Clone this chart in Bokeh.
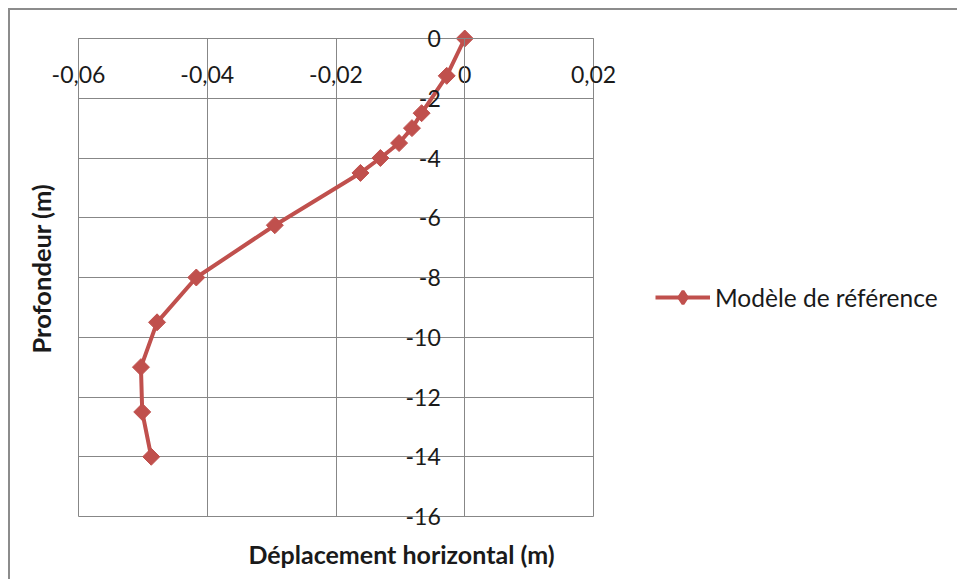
import math
from bokeh.plotting import figure
from bokeh.models import (FixedTicker, Label, Legend, LegendItem, Range1d)
from bokeh.embed import file_html
from bokeh.resources import INLINE

# Data
displacement = [0.0, -0.0028, -0.0067, -0.0082, -0.0102, -0.0131, -0.0162,
                -0.0295, -0.0417, -0.0478, -0.0503, -0.0501, -0.0487]
depth = [0.0, -1.25, -2.5, -3.0, -3.5, -4.0, -4.5,
         -6.25, -8.0, -9.5, -11.0, -12.5, -14.0]

x_ticks = [-0.06, -0.04, -0.02, 0.0, 0.02]
x_tick_labels = ["-0,06", "-0,04", "-0,02", "0", "0,02"]
y_ticks = [0, -2, -4, -6, -8, -10, -12, -14, -16]
y_tick_labels = ["0", "-2", "-4", "-6", "-8", "-10", "-12", "-14", "-16"]

series_name = "Modèle de référence"
x_title = "Déplacement horizontal (m)"
y_title = "Profondeur (m)"

RED = "#C0504D"
GRID = "#878787"
TEXT = "#1a1a1a"
FONT = "Lato"

X_MIN, X_MAX = -0.06, 0.02
Y_MIN, Y_MAX = -16, 0

# The frame covers the whole canvas; the visible plot area is bounded by
# the axis/grid bounds so that tick labels and titles are never clipped.
p = figure(width=949, height=571, output_backend="svg", toolbar_location=None,
           x_range=Range1d(-0.070563, 0.076854),
           y_range=Range1d(-18.17573, 0.93724),
           min_border_left=0, min_border_right=0, min_border_top=0,
           min_border_bottom=0)
p.styles = {"margin-left": "8px", "margin-top": "8px",
            "border-top": "2px solid #8c8c8c", "border-left": "2px solid #8c8c8c"}

p.outline_line_color = None
p.background_fill_color = "white"
p.border_fill_color = "white"

p.xaxis.bounds = (X_MIN, X_MAX)
p.yaxis.bounds = (Y_MIN, Y_MAX)
for ax in (p.xaxis[0], p.yaxis[0]):
    ax.fixed_location = 0
    ax.axis_line_color = GRID
    ax.axis_line_width = 1
    ax.major_tick_in = 0
    ax.major_tick_out = 0
    ax.minor_tick_in = 0
    ax.minor_tick_out = 0
    ax.major_label_text_font = FONT
    ax.major_label_text_font_size = "23px"
    ax.major_label_text_color = TEXT

p.xaxis.ticker = FixedTicker(ticks=x_ticks)
p.xaxis.major_label_overrides = {t: l for t, l in zip(x_ticks, x_tick_labels)}
p.xaxis.major_label_orientation = "horizontal"
p.xaxis.major_label_standoff = 27

p.yaxis.ticker = FixedTicker(ticks=y_ticks)
p.yaxis.major_label_overrides = {t: l for t, l in zip(y_ticks, y_tick_labels)}
p.yaxis.major_label_standoff = 24

p.xgrid.ticker = FixedTicker(ticks=x_ticks)
p.ygrid.ticker = FixedTicker(ticks=y_ticks)
p.xgrid.bounds = (X_MIN, X_MAX)
p.xgrid.cross_bounds = (Y_MIN, Y_MAX)
p.ygrid.bounds = (Y_MIN, Y_MAX)
p.ygrid.cross_bounds = (X_MIN, X_MAX)
for g in (p.xgrid[0], p.ygrid[0]):
    g.grid_line_color = GRID
    g.grid_line_width = 1

line = p.line(displacement, depth, line_color=RED, line_width=4)
# diamond glyph used for the legend swatch (hidden under the plot markers;
# legend glyphs are drawn unrotated, so the rotated squares can't be used)
legend_mark = p.scatter(displacement, depth, marker="diamond", size=1,
                        fill_color=RED, line_color=RED, line_width=3)
marks = p.scatter(displacement, depth, marker="square", angle=math.pi / 4,
                  size=12, fill_color=RED, line_color=RED)

p.add_layout(Label(x=-0.00983, y=-17.24, text=x_title, text_font=FONT,
                   text_font_size="25px", text_font_style="bold",
                   text_align="center", text_baseline="middle",
                   text_color=TEXT))
p.add_layout(Label(x=-0.0659, y=-7.70, text=y_title, text_font=FONT,
                   text_font_size="25.5px", text_font_style="bold",
                   text_align="center", text_baseline="middle",
                   angle=math.pi / 2, text_color=TEXT))

legend = Legend(items=[LegendItem(label=series_name,
                                  renderers=[line, legend_mark])],
                location=(645, 268), border_line_color=None,
                background_fill_alpha=0, label_text_font=FONT,
                label_text_font_size="24.5px", label_text_color=TEXT,
                glyph_width=55, glyph_height=32, label_height=26,
                label_standoff=5, padding=0, margin=0, spacing=0)
p.add_layout(legend)

open("out.html", "w").write(file_html(p, INLINE))
